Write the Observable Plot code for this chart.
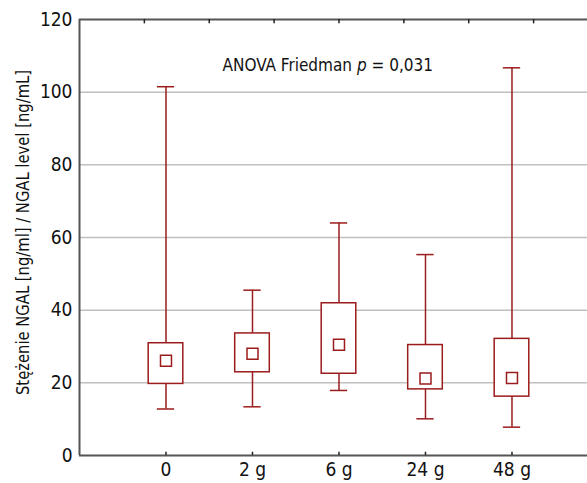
<!DOCTYPE html>
<html><head><meta charset="utf-8">
<script src="https://cdn.jsdelivr.net/npm/d3@7"></script>
<script src="https://cdn.jsdelivr.net/npm/@observablehq/plot@0.6"></script>
<style>body{margin:0;background:#fff}</style>
</head><body><div id="chart"></div>
<script>
const categories = ["0", "2 g", "6 g", "24 g", "48 g"];
const whiskerHigh = [101.5, 45.5, 64.0, 55.3, 106.7];
const boxHigh = [30.9, 33.6, 41.9, 30.4, 32.1];
const medians = [26.1, 28.0, 30.5, 21.2, 21.3];
const boxLow = [19.7, 22.9, 22.5, 18.2, 16.2];
const whiskerLow = [12.8, 13.4, 17.9, 10.1, 7.8];
const yTicks = [0, 20, 40, 60, 80, 100, 120];
const gridValues = [20, 40, 60, 80, 100];
const topTicks = [0.75, 1.5, 2.25, 3, 3.75, 4.5, 5.25];
const yLabel = "Stężenie NGAL [ng/ml] / NGAL level [ng/mL]";
const annotation = "ANOVA Friedman p = 0,031";

const data = categories.map((c, i) => ({
  cat: c, pos: i + 1,
  lo: whiskerLow[i], q1: boxLow[i], med: medians[i], q3: boxHigh[i], hi: whiskerHigh[i]
}));

const FONT = '"DejaVu Sans Condensed","Liberation Sans Narrow",sans-serif';
const red = "#9b1c1c";
const axisCol = "#555";

const plot = Plot.plot({
  width: 587, height: 483,
  marginLeft: 79, marginRight: 0, marginTop: 19, marginBottom: 28,
  style: {fontFamily: FONT, background: "#fff", color: "#111"},
  x: {domain: [0, 5.873], axis: null},
  y: {domain: [0, 120], axis: null},
  marks: [
    Plot.ruleY(gridValues, {stroke: "#c0c0c0", strokeWidth: 1.5}),
    Plot.ruleX(data, {x: "pos", y1: "q3", y2: "hi", stroke: red, strokeWidth: 1.5}),
    Plot.ruleX(data, {x: "pos", y1: "lo", y2: "q1", stroke: red, strokeWidth: 1.5}),
    Plot.ruleY(data, {y: "hi", x1: d => d.pos - 0.1, x2: d => d.pos + 0.1, stroke: red, strokeWidth: 1.5}),
    Plot.ruleY(data, {y: "lo", x1: d => d.pos - 0.1, x2: d => d.pos + 0.1, stroke: red, strokeWidth: 1.5}),
    Plot.rect(data, {x1: d => d.pos - 0.2, x2: d => d.pos + 0.2, y1: "q1", y2: "q3", fill: "white", stroke: red, strokeWidth: 1.5}),
    Plot.dot(data, {x: "pos", y: "med", symbol: "square", r: 6.2, fill: "white", stroke: red, strokeWidth: 1.5}),
    Plot.ruleY([0], {stroke: axisCol, strokeWidth: 2}),
    Plot.ruleY([120], {stroke: axisCol, strokeWidth: 2}),
    Plot.ruleX([0], {stroke: axisCol, strokeWidth: 2}),
    Plot.ruleX(topTicks, {x: d => d, y1: 120, y2: 118.8, stroke: "#222", strokeWidth: 1.5}),
    Plot.ruleX(data, {x: "pos", y1: 0, y2: 0.9, stroke: "#222", strokeWidth: 1.5}),
    Plot.axisY(yTicks, {tickSize: 0, tickPadding: 7, fontSize: 19, label: null, className: "yax"}),
    Plot.axisX(data.map(d => d.pos), {tickSize: 0, tickPadding: 7, fontSize: 19, label: null, tickFormat: v => categories[v - 1], className: "xax"}),
    Plot.text([yLabel], {frameAnchor: "left", textAnchor: "middle", rotate: -90, dx: -56, dy: -5, fontSize: 17, fill: "#111", className: "ylab"}),
    Plot.text([annotation], {x: [2.87], y: [107.2], fontSize: 17, fill: "#111", className: "anno"})
  ]
});
document.getElementById("chart").appendChild(plot);

// condense the long axis label to the reference's narrow typeface width
d3.select(plot).selectAll("g.ylab text").attr("textLength", 325).attr("lengthAdjust", "spacingAndGlyphs");

// italicize the "p" in the annotation
d3.select(plot).selectAll("g.anno text").each(function() {
  const t = d3.select(this);
  const s = t.text();
  const idx = s.indexOf(" p ");
  if (idx < 0) return;
  t.text(null);
  t.append("tspan").text(s.slice(0, idx + 1));
  t.append("tspan").attr("font-style", "italic").text("p");
  t.append("tspan").text(s.slice(idx + 2));
});
</script>
</body></html>
